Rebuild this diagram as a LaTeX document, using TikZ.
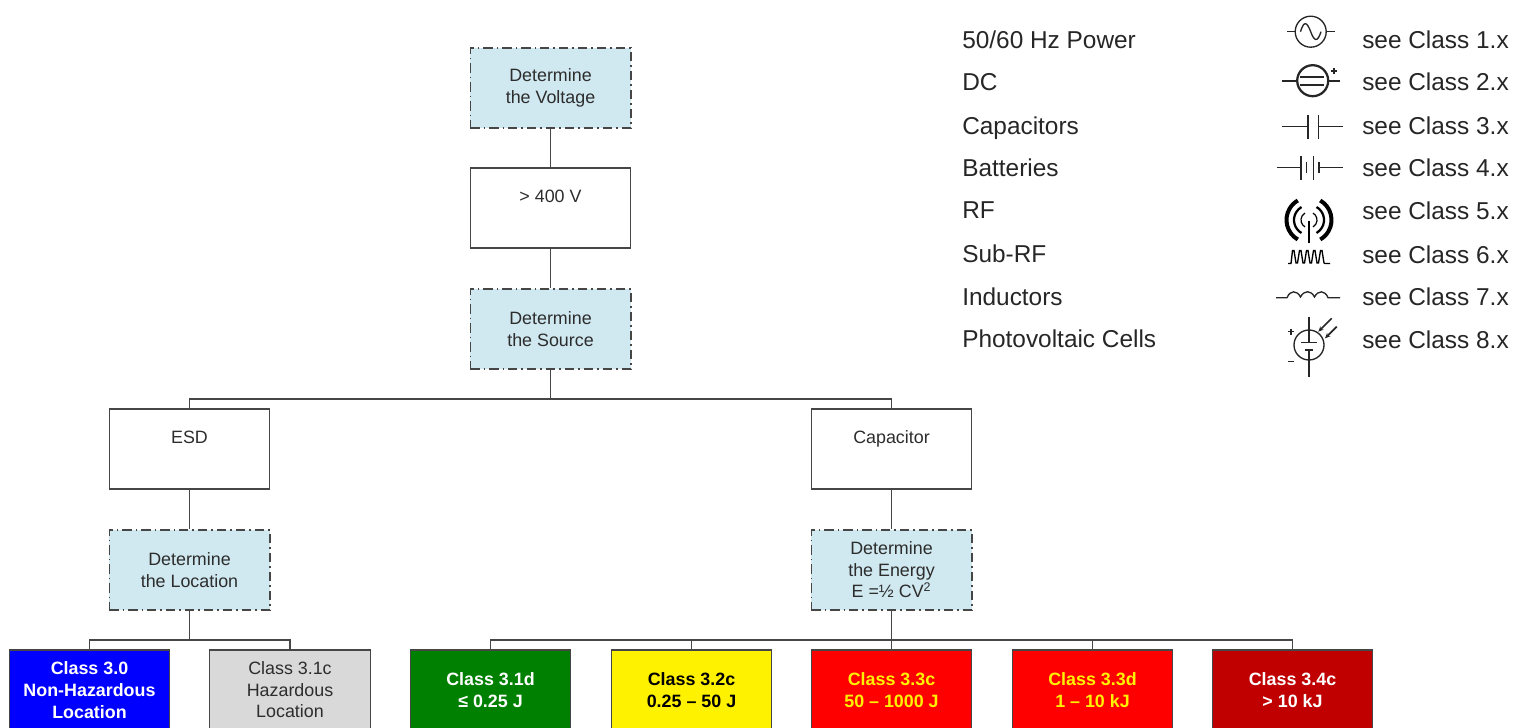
\documentclass[tikz,border=0pt]{standalone}
\usepackage{fontspec}
\setmainfont{Liberation Sans}
\usetikzlibrary{arrows.meta}
\definecolor{stepfill}{RGB}{208,232,240}
\definecolor{linegray}{RGB}{70,70,70}
\definecolor{txtgray}{RGB}{45,45,45}
\definecolor{darkgrn}{RGB}{0,128,0}
\definecolor{darkred}{RGB}{192,0,0}
\definecolor{lightgr}{RGB}{217,217,217}
\tikzset{
  box/.style={draw=linegray,line width=0.8pt,minimum width=120.4pt,minimum height=60pt,inner sep=0pt,align=center,font=\fontsize{13.4pt}{16.2pt}\selectfont,text=txtgray},
  decide/.style={box,fill=stepfill,line width=1.1pt,dash pattern=on 7pt off 3pt on 1.2pt off 3pt},
  cls/.style={box,font=\bfseries\fontsize{13.4pt}{16.4pt}\selectfont},
  conn/.style={draw=linegray,line width=0.8pt},
  legend/.style={anchor=base west,inner sep=0pt,font=\fontsize{18.3pt}{20pt}\selectfont,text=black!85},
  sym/.style={draw=black!85,line width=1pt},
}
\begin{document}
\begin{tikzpicture}[x=0.75pt,y=-0.75pt]
\useasboundingbox (0,0) rectangle (1514,728);
\clip (0,0) rectangle (1514,728);
% main column
\node[decide] (volt) at (550.5,88) {Determine\\the Voltage};
\node[box] (v400) at (550.5,208) {> 400 V\\[-3pt]\strut};
\node[decide] (src) at (550.5,329) {Determine\\the Source};
\node[box] (esd) at (189.5,449) {ESD\\[-3pt]\strut};
\node[box] (cap) at (891.5,449) {Capacitor\\[-3pt]\strut};
\node[decide] (loc) at (189.5,570) {Determine\\the Location};
\node[decide] (nrg) at (891.5,570) {Determine\\the Energy\\E =½ CV\textsuperscript{2}};
% class boxes
\node[cls,fill=blue,text=white] (c30) at (89.5,690) {Class 3.0\\Non-Hazardous\\Location};
\node[box,fill=lightgr] (c31c) at (290,690) {Class 3.1c\\Hazardous\\Location};
\node[cls,fill=darkgrn,text=white] (c31d) at (490.5,690) {Class 3.1d\\≤ 0.25 J};
\node[cls,fill=yellow,text=black] (c32) at (691.5,690) {Class 3.2c\\0.25 – 50 J};
\node[cls,fill=red,text=yellow] (c33c) at (891.5,690) {Class 3.3c\\50 – 1000 J};
\node[cls,fill=red,text=yellow] (c33d) at (1092.5,690) {Class 3.3d\\1 – 10 kJ};
\node[cls,fill=darkred,text=white] (c34) at (1292.5,690) {Class 3.4c\\> 10 kJ};
% connectors
\coordinate (busA) at (550.5,399);
\coordinate (busB) at (189.5,640);
\coordinate (busC) at (891.5,640);
\draw[conn] (volt) -- (v400);
\draw[conn] (v400) -- (src);
\draw[conn] (src) -- (busA);
\draw[conn] (busA) -| (esd);
\draw[conn] (busA) -| (cap);
\draw[conn] (esd) -- (loc);
\draw[conn] (cap) -- (nrg);
\draw[conn] (loc) -- (busB);
\draw[conn] (busB) -| (c30);
\draw[conn] (busB) -| (c31c);
\draw[conn] (nrg) -- (c33c);
\draw[conn] (busC) -| (c31d);
\draw[conn] (busC) -| (c32);
\draw[conn] (busC) -| (c33d);
\draw[conn] (busC) -| (c34);
% legend texts
\node[legend] (l1) at (962,48) {50/60 Hz Power};
\node[legend] (l2) at (962,90) {DC};
\node[legend] (l3) at (962,134) {Capacitors};
\node[legend] (l4) at (962,176) {Batteries};
\node[legend] (l5) at (962,218) {RF};
\node[legend] (l6) at (962,262) {Sub-RF};
\node[legend] (l7) at (962,305) {Inductors};
\node[legend] (l8) at (962,347) {Photovoltaic Cells};
\node[legend] (s1) at (1362,48) {see Class 1.x};
\node[legend] (s2) at (1362,90) {see Class 2.x};
\node[legend] (s3) at (1362,134) {see Class 3.x};
\node[legend] (s4) at (1362,176) {see Class 4.x};
\node[legend] (s5) at (1362,219) {see Class 5.x};
\node[legend] (s6) at (1362,263) {see Class 6.x};
\node[legend] (s7) at (1362,305) {see Class 7.x};
\node[legend] (s8) at (1362,348) {see Class 8.x};
% symbol 1: AC source
\draw[sym] (1310.7,31.7) circle [radius=15.5];
\draw[sym] (1287,31.7) -- (1295.2,31.7) (1326.2,31.7) -- (1335,31.7);
\draw[sym] (1300.5,31.7) .. controls (1304,20) and (1307,22) .. (1310.7,31.7) .. controls (1314,41) and (1317.5,43) .. (1321,31.7);
% symbol 2: DC source
\draw[sym,line width=1.7pt] (1312.7,80.7) circle [radius=15.5];
\draw[sym,line width=1.7pt] (1282,80.7) -- (1297.2,80.7) (1328.2,80.7) -- (1340,80.7);
\draw[sym,line width=1.7pt] (1300,77) -- (1323.5,77) (1300,85) -- (1323.5,85);
\draw[sym,line width=0.8pt] (1331,71) -- (1337,71) (1334,68) -- (1334,74);
% symbol 3: capacitor
\draw[sym] (1282,126.3) -- (1308,126.3) (1308,115) -- (1308,139);
\draw[sym] (1342.7,126.3) -- (1318.7,126.3) (1318.7,115) -- (1318.7,139);
% symbol 4: battery
\draw[sym] (1277,167.7) -- (1301,167.7) (1301,156) -- (1301,180) (1306.7,162) -- (1306.7,173);
\draw[sym] (1342.7,167.7) -- (1319,167.7) (1319,162) -- (1319,173) (1313.3,156) -- (1313.3,180);
% symbol 5: RF
\draw[sym,draw=black,line width=1.7pt] (1309,242.5) -- (1309,221);
\foreach \r/\w in {22.5/3.0,15/1.7,8/0.9}{
  \draw[sym,draw=black,line width=\w pt] (1309,220) ++(-60:\r) arc[start angle=-60,end angle=60,radius=\r];
  \draw[sym,draw=black,line width=\w pt] (1309,220) ++(120:\r) arc[start angle=120,end angle=240,radius=\r];
}
% symbol 6: sub-RF
\draw[sym,draw=black] (1288,263.5) -- (1291,263.5) -- (1292.5,250.5) -- (1294,250.5) -- (1296,263) -- (1297.5,263) -- (1299.5,250.5) -- (1301,250.5) -- (1303,263) -- (1304.5,263) -- (1306.5,250.5) -- (1308,250.5) -- (1310,263) -- (1311.5,263) -- (1313.5,250.5) -- (1315,250.5) -- (1317,263) -- (1318.5,263) -- (1320.5,250.5) -- (1322,250.5) -- (1324,263) -- (1325,263.5) -- (1330,263.5);
% symbol 7: inductor
\draw[sym] (1276,297.7) -- (1287,297.7) .. controls (1290,290) and (1297,290) .. (1300.5,297) .. controls (1304,290) and (1311,290) .. (1314.5,297) .. controls (1318,290) and (1325,290) .. (1328,297.7) -- (1340,297.7);
% symbol 8: PV
\draw[sym] (1309,345) circle [radius=15];
\draw[sym] (1309,316.7) -- (1309,342.3) (1301,342.3) -- (1317,342.3);
\draw[sym,line width=1.3pt] (1305,350) -- (1313,350);
\draw[sym] (1309,350) -- (1309,376.7);
\draw[sym,line width=1pt] (1288,331.7) -- (1294,331.7) (1291,328.7) -- (1291,334.7);
\draw[sym,line width=1pt] (1288,361.7) -- (1294,361.7);
\draw[sym,line width=1.3pt,-{Stealth[length=4pt,width=3.5pt]}] (1331.7,318.3) -- (1318.3,331.7);
\draw[sym,line width=1.3pt,-{Stealth[length=4pt,width=3.5pt]}] (1336.7,326.7) -- (1325,338.3);
\end{tikzpicture}
\end{document}
